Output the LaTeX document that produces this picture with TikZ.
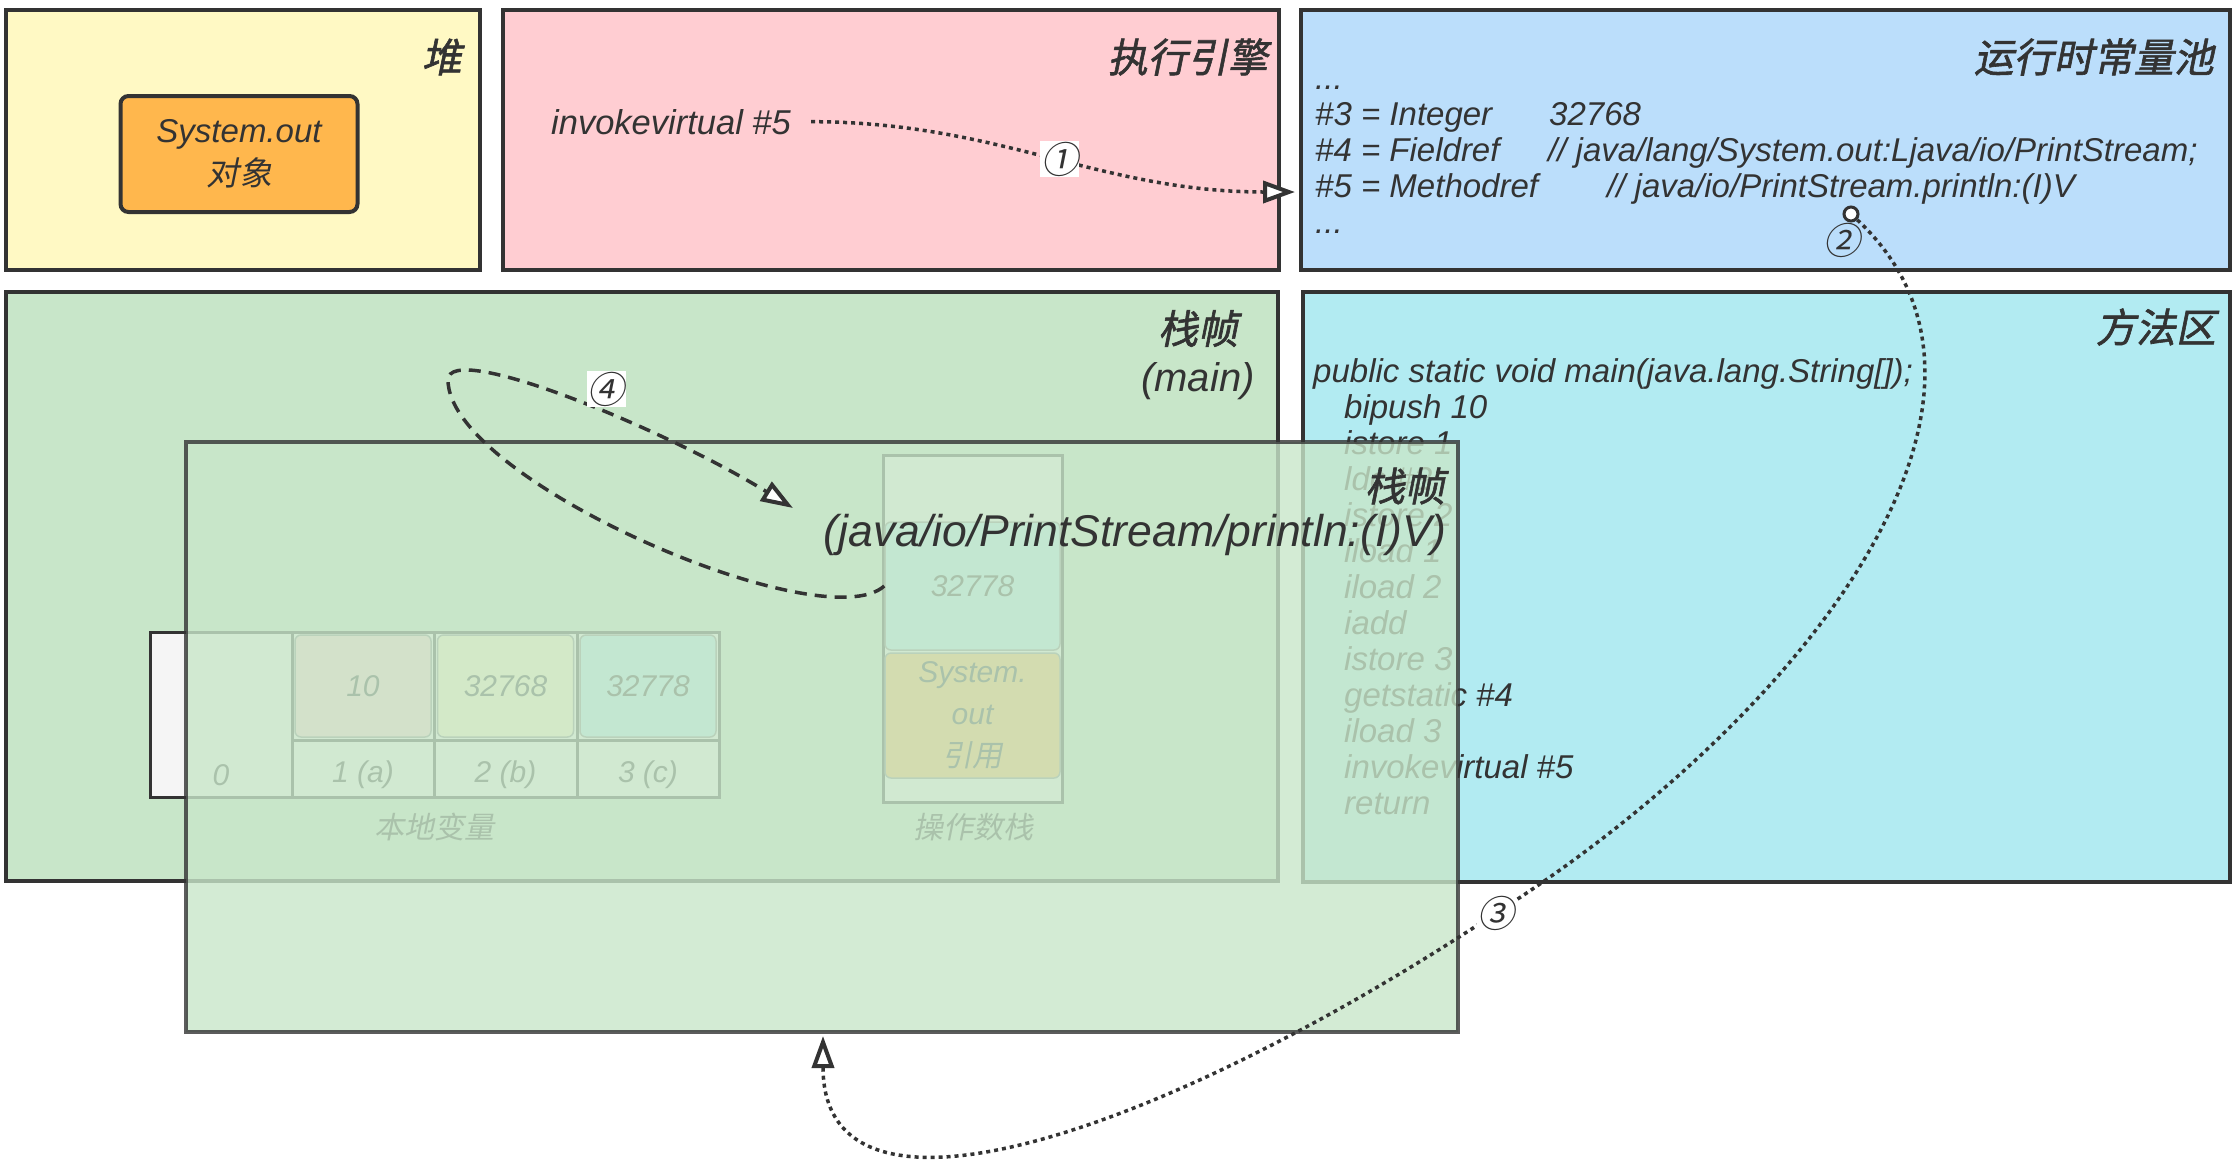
\documentclass[tikz,border=0pt]{standalone}
\usepackage{fontspec}
\setmainfont{Liberation Sans}
\newfontfamily\zh{Noto Sans CJK SC}[FakeSlant=0.2]
\newfontfamily\zhb{Noto Sans CJK SC}[FakeSlant=0.2,FakeBold=1.5]
\usetikzlibrary{arrows.meta}
\definecolor{ink}{HTML}{333333}
\definecolor{heapc}{HTML}{FFF9C4}
\definecolor{enginec}{HTML}{FFCDD2}
\definecolor{poolc}{HTML}{BBDEFB}
\definecolor{framec}{HTML}{C8E6C9}
\definecolor{methodc}{HTML}{B2EBF2}
\definecolor{objc}{HTML}{FFB74D}
\definecolor{slotc}{HTML}{F5F5F5}
\tikzset{
  area/.style={draw=ink,line width=4pt},
  title/.style={font=\fontsize{40}{48}\zhb\selectfont,text=ink,anchor=east,inner sep=0pt},
  code/.style={font=\fontsize{33}{36}\selectfont\itshape,text=ink,anchor=base west,inner sep=0pt},
  slotline/.style={draw=ink,line width=3pt},
  valbox/.style={rounded corners=6pt,draw=ink!60,line width=1.5pt,minimum width=136pt,minimum height=102pt,
    inner sep=0pt,font=\fontsize{30}{42}\selectfont\itshape,text=ink,align=center},
  small/.style={font=\fontsize{30}{36}\selectfont\itshape,text=ink,inner sep=0pt},
  zhsmall/.style={font=\fontsize{30}{36}\zh\selectfont,text=ink,inner sep=0pt},
  lbl/.style={fill=white,inner sep=1pt,font=\fontsize{37}{37}\zh\selectfont,text=ink},
  dots/.style={draw=ink,line width=3.5pt,dash pattern=on 4pt off 4pt},
  dsh/.style={draw=ink,line width=3.5pt,dash pattern=on 12pt off 8pt},
  tip/.style={-{Triangle[fill=white,length=32pt,width=22pt,line width=4pt]}}
}
\begin{document}
\begin{tikzpicture}[x=1pt,y=-1pt]
\useasboundingbox (0,0) rectangle (2236,1163);
\draw[area,fill=heapc](6,10) rectangle (480,270);
\node[title] (heap) at (462,57) {堆};
\node[rounded corners=8pt,draw=ink,line width=4pt,fill=objc,minimum width=237pt,minimum height=116pt,
  inner sep=0pt,align=center,text=ink,font=\fontsize{33}{43}\selectfont\itshape] (sysout) at (239,154) {System.out\\{\zh 对象}};
\draw[area,fill=enginec](503,10) rectangle (1279,270);
\node[title] (engine) at (1268,57) {执行引擎};
\node[code,font=\fontsize{34.5}{36}\selectfont\itshape] (inv) at (551,134) {invokevirtual \#5};
\draw[area,fill=poolc](1301,10) rectangle (2230,270);
\node[title] (pool) at (2214,57) {运行时常量池};
\node[code] (c0) at (1315,89) {...};
\node[code] (c3) at (1315,125) {\#3 = Integer};
\node[code] (c3v) at (1549,125) {32768};
\node[code] (c4) at (1315,161) {\#4 = Fieldref};
\node[code] (c4v) at (1548,161) {// java/lang/System.out:Ljava/io/PrintStream;};
\node[code] (c5) at (1315,197) {\#5 = Methodref};
\node[code] (c5v) at (1607,197) {// java/io/PrintStream.println:(I)V};
\node[code] (c6) at (1315,233) {...};
\coordinate (p5) at (1295,192);
\node[circle,draw=ink,fill=white,line width=3pt,minimum size=14pt,inner sep=0pt] (ref5) at (1851,214) {};
\node[font=\fontsize{37}{37}\zh\selectfont,text=ink,inner sep=0pt] (n2) at (1842,240) {②};
\draw[area,fill=framec](6,292) rectangle (1278,881);
\node[title,anchor=center,align=center] (mainf) at (1198,355) {栈帧\\{\normalfont\itshape (main)}};
\draw[slotline,fill=slotc](150,632) rectangle (719,797);
\foreach \x in {292,434,577} \draw[slotline](\x,632)--(\x,797);
\draw[slotline](292,740)--(719,740);
\node[valbox,fill=enginec] (v1) at (363,686) {10};
\node[valbox,fill=heapc] (v2) at (505.5,686) {32768};
\node[valbox,fill=methodc] (v3) at (648,686) {32778};
\node[small] (i0) at (221,775) {0};
\node[small] (i1) at (363,775) {1 (a)};
\node[small] (i2) at (505.5,775) {2 (b)};
\node[small] (i3) at (648,775) {3 (c)};
\node[zhsmall] (locals) at (434,827) {本地变量};
\draw[slotline,fill=slotc](883,455) rectangle (1062,802);
\node[valbox,fill=methodc,minimum width=175pt,minimum height=128pt] (s1) at (972.5,586) {32778};
\node[valbox,fill=objc,minimum width=175pt,minimum height=125pt] (s2) at (972.5,715.5) {System.\\out\\{\zh 引用}};
\node[zhsmall] (opstack) at (973,827) {操作数栈};
\draw[area,fill=methodc](1303,292) rectangle (2230,882);
\node[title] (marea) at (2216,327) {方法区};
\node[code] (m0) at (1313,382) {public static void main(java.lang.String[]);};
\foreach \ins [count=\k] in {bipush 10,istore 1,ldc \#3,istore 2,iload 1,iload 2,iadd,istore 3,getstatic \#4,iload 3,invokevirtual \#5,return}
  \node[code] (m\k) at (1344,382+36*\k) {\ins};
\draw[area,fill=framec,fill opacity=0.8,draw opacity=0.8](186,442) rectangle (1458,1032);
\node[title] (newf) at (1445,486) {栈帧};
\node[font=\fontsize{44.5}{48}\selectfont\itshape,text=ink,anchor=east,inner sep=0pt] (sig) at (1447,535) {(java/io/PrintStream/println:(I)V)};
\coordinate (p3) at (823,1036);
\coordinate (p4) at (793,508);
\draw[dots,tip]([xshift=20pt]inv.east) .. controls (1000,122) and (1100,192) .. (p5) node[lbl,pos=0.52]{①};
\draw[dots,tip](ref5) .. controls (2050,400) and (1800,720) .. (1496,913) node[lbl]{③}
  .. controls (1164,1133) and (823,1250) .. (p3);
\draw[dsh,tip](s1.west) .. controls (823,641) and (448,480) .. (448,380)
  .. controls (448,340) and (663,428) .. (p4) node[lbl,pos=0.58,yshift=24pt]{④};
\end{tikzpicture}
\end{document}
